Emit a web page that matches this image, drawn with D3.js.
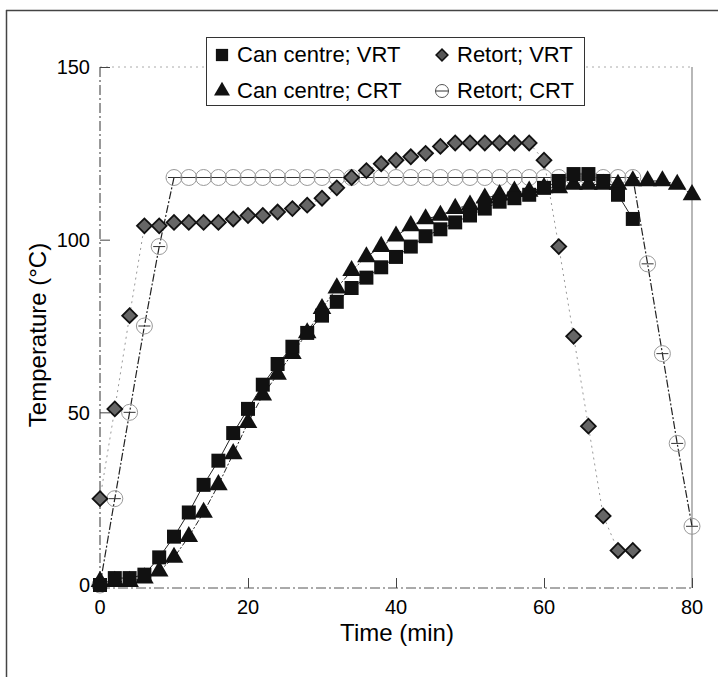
<!DOCTYPE html>
<html>
<head>
<meta charset="utf-8">
<script src="https://cdn.jsdelivr.net/npm/d3@7"></script>
<style>
  body { margin: 0; background: #fff; }
  svg { display: block; font-family: "Liberation Sans", Arial, sans-serif; }
</style>
</head>
<body>
<svg id="chart" width="718" height="677"></svg>
<script>
// time points (min)
var timeVrt = [0,2,4,6,8,10,12,14,16,18,20,22,24,26,28,30,32,34,36,38,40,42,44,46,48,50,52,54,56,58,60,62,64,66,68,70,72];
var timeCrt = [0,2,4,6,8,10,12,14,16,18,20,22,24,26,28,30,32,34,36,38,40,42,44,46,48,50,52,54,56,58,60,62,64,66,68,70,72,74,76,78,80];

// temperatures (deg C)
var canVrt = [0,2,2,3,8,14,21,29,36,44,51,58,64,69,73,78,82,86,89,92,95,98,101,103,105,107,109,111,112,113,115,117,119,119,117,113,106];
var canCrt = [1,1,1,2,4,8,14,21,29,38,47,55,61,67,73,80,86,91,95,98,101,104,106,107,109,110,112,113,114,114,115,115,116,116,116,116,117,117,117,116,113];
var retortVrt = [25,51,78,104,104,105,105,105,105,106,107,107,108,109,110,112,115,118,120,122,123,124,125,127,128,128,128,128,128,128,123,98,72,46,20,10,10];
var retortCrt = [0,25,50,75,98,118,118,118,118,118,118,118,118,118,118,118,118,118,118,118,118,118,118,118,118,118,118,118,118,118,118,118,118,118,118,118,118,93,67,41,17];

var xTicks = [0, 20, 40, 60, 80];
var yTicks = [0, 50, 100, 150];
var legendLabels = ["Can centre; VRT", "Retort; VRT", "Can centre; CRT", "Retort; CRT"];

var svg = d3.select("#chart");

var x = d3.scaleLinear().domain([0, 80]).range([100, 692]);
var y = d3.scaleLinear().domain([0, 150]).range([585, 67]);

function pts(times, vals) {
    return times.map(function (t, i) { return { t: t, v: vals[i] }; });
}
var sqData = pts(timeVrt, canVrt);
var triData = pts(timeCrt, canCrt);
var diaData = pts(timeVrt, retortVrt);
var cirData = pts(timeCrt, retortCrt);

// figure frame (scanned page edge)
svg.append("line").attr("x1", 6).attr("y1", 10.5).attr("x2", 718).attr("y2", 10.5)
    .attr("stroke", "#444").attr("stroke-width", 1.5);
svg.append("line").attr("x1", 6.5).attr("y1", 10).attr("x2", 6.5).attr("y2", 677)
    .attr("stroke", "#444").attr("stroke-width", 1.5);

// plot box
svg.append("line").attr("x1", 100).attr("y1", y(150)).attr("x2", 692).attr("y2", y(150))
    .attr("stroke", "#aaa").attr("stroke-dasharray", "2,4");
svg.append("line").attr("x1", 692).attr("y1", y(150)).attr("x2", 692).attr("y2", 588)
    .attr("stroke", "#888").attr("stroke-width", 1.2);
svg.append("line").attr("x1", 100).attr("y1", y(150)).attr("x2", 100).attr("y2", 588)
    .attr("stroke", "#333").attr("stroke-dasharray", "10,3,2,3");
svg.append("line").attr("x1", 100).attr("y1", 588).attr("x2", 692).attr("y2", 588)
    .attr("stroke", "#555").attr("stroke-dasharray", "10,3,2,3");

// axes, inward ticks
var yAxis = svg.append("g").attr("transform", "translate(100,0)")
    .call(d3.axisRight(y).tickValues(yTicks).tickSize(10).tickFormat(""));
var xAxis = svg.append("g").attr("transform", "translate(0,588)")
    .call(d3.axisTop(x).tickValues(xTicks).tickSize(10).tickFormat(""));
[yAxis, xAxis].forEach(function (a) {
    a.select(".domain").remove();
    a.selectAll("line").attr("stroke", "#444");
});

svg.append("g").selectAll("text").data(yTicks).enter().append("text")
    .attr("x", 90).attr("y", function (d) { return y(d); })
    .attr("dy", "0.36em").attr("text-anchor", "end")
    .attr("font-size", 20).text(function (d) { return d; });
svg.append("g").selectAll("text").data(xTicks).enter().append("text")
    .attr("x", function (d) { return x(d); }).attr("y", 614)
    .attr("text-anchor", "middle")
    .attr("font-size", 20).text(function (d) { return d; });

svg.append("text").attr("x", 397).attr("y", 641).attr("text-anchor", "middle")
    .attr("font-size", 24).text("Time (min)");
svg.append("text").attr("transform", "translate(46,335) rotate(-90)")
    .attr("text-anchor", "middle").attr("font-size", 24).text("Temperature (°C)");

// lines
var line = d3.line().x(function (d) { return x(d.t); }).y(function (d) { return y(d.v); });

svg.append("path").datum(diaData).attr("d", line).attr("fill", "none")
    .attr("stroke", "#999").attr("stroke-width", 1).attr("stroke-dasharray", "2,4");
svg.append("path").datum(cirData).attr("d", line).attr("fill", "none")
    .attr("stroke", "#222").attr("stroke-width", 1.2).attr("stroke-dasharray", "8,2,2,2");
svg.append("path").datum(triData).attr("d", line).attr("fill", "none")
    .attr("stroke", "#222").attr("stroke-width", 1).attr("stroke-dasharray", "6,2,2,2");
svg.append("path").datum(sqData).attr("d", line).attr("fill", "none")
    .attr("stroke", "#222").attr("stroke-width", 1);

// markers
var circleG = svg.append("g").selectAll("g").data(cirData).enter().append("g")
    .attr("transform", function (d) { return "translate(" + x(d.t) + "," + y(d.v) + ")"; });
circleG.append("circle").attr("r", 8).attr("fill", "none").attr("stroke", "#999").attr("stroke-width", 1);
circleG.append("line").attr("x1", -6).attr("x2", 6).attr("stroke", "#333").attr("stroke-width", 1);

var diamond = d3.symbol().type(d3.symbolSquare).size(110);
svg.append("g").selectAll("path").data(diaData).enter().append("path")
    .attr("d", diamond)
    .attr("transform", function (d) { return "translate(" + x(d.t) + "," + y(d.v) + ") rotate(45)"; })
    .attr("fill", "#666").attr("stroke", "#111").attr("stroke-width", 1.8);

var tri = d3.symbol().type(d3.symbolTriangle).size(150);
svg.append("g").selectAll("path").data(triData).enter().append("path")
    .attr("d", tri)
    .attr("transform", function (d) { return "translate(" + x(d.t) + "," + y(d.v) + ")"; })
    .attr("fill", "#111");

var sq = d3.symbol().type(d3.symbolSquare).size(196);
svg.append("g").selectAll("path").data(sqData).enter().append("path")
    .attr("d", sq)
    .attr("transform", function (d) { return "translate(" + x(d.t) + "," + y(d.v) + ")"; })
    .attr("fill", "#111");

// legend
var lg = svg.append("g");
lg.append("rect").attr("x", 206.5).attr("y", 37.5).attr("width", 378).attr("height", 68)
    .attr("fill", "#fff").attr("stroke", "#333").attr("stroke-width", 1);
var legendPos = [[222, 54], [442, 54], [222, 90], [442, 90]];
lg.selectAll("text").data(legendLabels).enter().append("text")
    .attr("x", function (d, i) { return legendPos[i][0] + 15; })
    .attr("y", function (d, i) { return legendPos[i][1]; })
    .attr("dy", "0.36em").attr("font-size", 22).text(function (d) { return d; });
lg.append("path").attr("d", d3.symbol().type(d3.symbolSquare).size(150))
    .attr("transform", "translate(222,55)").attr("fill", "#111");
lg.append("path").attr("d", d3.symbol().type(d3.symbolSquare).size(70))
    .attr("transform", "translate(442,55) rotate(45)").attr("fill", "#555").attr("stroke", "#111").attr("stroke-width", 1.5);
lg.append("path").attr("d", d3.symbol().type(d3.symbolTriangle).size(110))
    .attr("transform", "translate(222,91)").attr("fill", "#111");
lg.append("circle").attr("cx", 442).attr("cy", 91).attr("r", 6.5).attr("fill", "none").attr("stroke", "#555");
lg.append("line").attr("x1", 435.5).attr("x2", 448.5).attr("y1", 91).attr("y2", 91).attr("stroke", "#333");
</script>
</body>
</html>
